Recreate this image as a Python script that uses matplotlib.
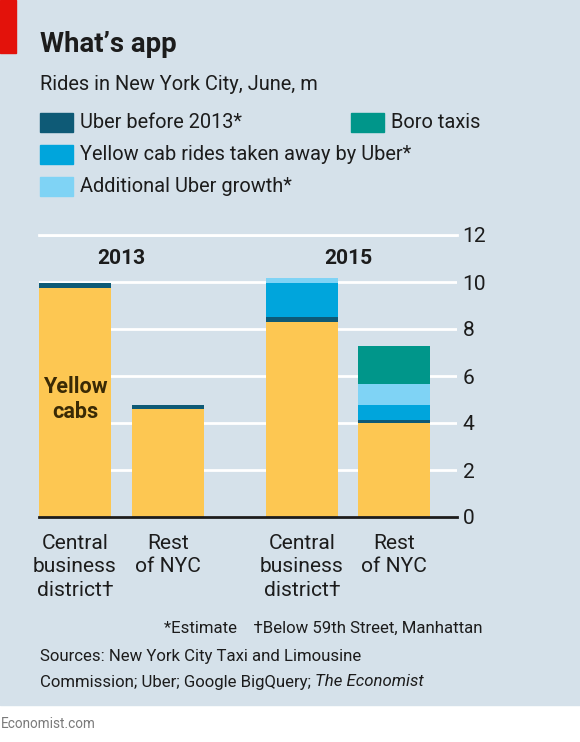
import matplotlib.pyplot as plt
from matplotlib.patches import Rectangle
import numpy as np

# data (m rides, June)
categories = ["Central\nbusiness\ndistrict\u2020", "Rest\nof NYC",
              "Central\nbusiness\ndistrict\u2020", "Rest\nof NYC"]
years = ["2013", "2015"]
yellow_cabs = [9.75, 4.6, 8.3, 4.0]
uber_before = [0.2, 0.15, 0.2, 0.14]
taken_away = [0, 0, 1.45, 0.63]
extra_uber = [0, 0, 0.22, 0.88]
boro_taxis = [0, 0, 0, 1.64]

series = [
    ("Uber before 2013*", uber_before, "#0e5a76"),
    ("Yellow cab rides taken away by Uber*", taken_away, "#00a5dc"),
    ("Additional Uber growth*", extra_uber, "#7fd3f5"),
    ("Boro taxis", boro_taxis, "#00968a"),
]
yellow = "#fdc752"
bg = "#d5e1ea"
ink = "#1c1c1c"

plt.rcParams['font.family'] = ['Roboto', 'DejaVu Sans']

W, H = 580, 742
fig = plt.figure(figsize=(W / 100, H / 100), dpi=100, facecolor="white")


def fx(x):
    return x / W


def fy(y):
    return 1 - y / H


def fit(t, width):
    # scale a text so it spans roughly the width seen in the reference
    fig.canvas.draw()
    w0 = t.get_window_extent().width
    t.set_fontsize(t.get_fontsize() * width / w0)
    return t.get_fontsize()


fig.patches.append(Rectangle((0, fy(705)), 1, 1 - fy(705), transform=fig.transFigure,
                             color=bg, zorder=-10))
fig.patches.append(Rectangle((0, fy(53)), fx(16), 1 - fy(53), transform=fig.transFigure,
                             color="#e3120b", zorder=-5))

title = fig.text(fx(40), fy(45), "What\u2019s app", fontsize=20, fontweight="bold",
                 color=ink, va="center")
fit(title, 136)
sub = fig.text(fx(40), fy(84), "Rides in New York City, June, m", fontsize=15,
               color=ink, va="center")
fs = fit(sub, 278)

# legend
leg_rows = [(0, 0), (1, 0), (2, 0), (0, 1)]
for (label, vals, col), (r, c) in zip(series, leg_rows):
    x0 = 40 if c == 0 else 351
    yc = 123 + r * 32
    fig.patches.append(Rectangle((fx(x0), fy(yc + 9)), fx(33), 19 / H,
                                 transform=fig.transFigure, color=col))
    fig.text(fx(x0 + 40), fy(yc), label, fontsize=fs, color=ink, va="center")

ax = fig.add_axes([fx(39), fy(517), fx(457) - fx(39), fy(235) - fy(517)])
ax.set_facecolor("none")

x = np.array([0, 1, 2.44, 3.43])
w = 0.774
bottom = np.zeros(4)
ax.bar(x, yellow_cabs, w, color=yellow, zorder=2)
bottom += yellow_cabs
for label, vals, col in series:
    ax.bar(x, vals, w, bottom=bottom, color=col, zorder=2)
    bottom += vals

ax.set_xlim(x[0] - w / 2, 4.108)
ax.set_ylim(0, 12)
ax.set_yticks(range(0, 13, 2))
ax.yaxis.tick_right()
ax.tick_params(axis="y", length=0, pad=4, labelsize=fs * 1.05, labelcolor=ink)
for lab in ax.get_yticklabels():
    lab.set_horizontalalignment("left")
ax.grid(axis="y", color="white", lw=2, zorder=0)
ax.axhline(12, color="white", lw=2, zorder=0, clip_on=False)
ax.axhline(0, color=ink, lw=2, zorder=3, clip_on=False)
for s in ax.spines.values():
    s.set_visible(False)

ax.set_xticks(x)
ax.set_xticklabels(categories, fontsize=fs * 1.05, color=ink, linespacing=1.32)
ax.tick_params(axis="x", length=0, pad=12)

ax.text(x[:2].mean(), 11.0, years[0], ha="center", va="center", fontsize=fs * 1.05,
        fontweight="bold", color=ink)
ax.text(x[2:].mean(), 11.0, years[1], ha="center", va="center", fontsize=fs * 1.05,
        fontweight="bold", color=ink)
ax.text(x[0], 5.0, "Yellow\ncabs", ha="center", va="center", fontsize=fs * 1.08,
        fontweight="bold", color="#3a2a05", linespacing=1.15)

note = fig.text(fx(482), fy(628), "*Estimate    \u2020Below 59th Street, Manhattan",
                ha="right", va="center", fontsize=13, color=ink)
src1 = fig.text(fx(40), fy(657), "Sources: New York City Taxi and Limousine",
                fontsize=13, color=ink, va="center")
fs2 = fit(src1, 322)
note.set_fontsize(fs2)
src = fig.text(fx(40), fy(682), "Commission; Uber; Google BigQuery; ", fontsize=fs2,
               color=ink, va="center")
fig.canvas.draw()
bb = src.get_window_extent()
fig.text(bb.x1 / W, fy(682), "The Economist", fontsize=fs2, style="italic",
         color=ink, va="center")
ec = fig.text(fx(1), fy(724), "Economist.com", fontsize=12, color="#7a7a7a",
              va="center")
fit(ec, 95)

fig.savefig("out.png", dpi=100, facecolor="white")
